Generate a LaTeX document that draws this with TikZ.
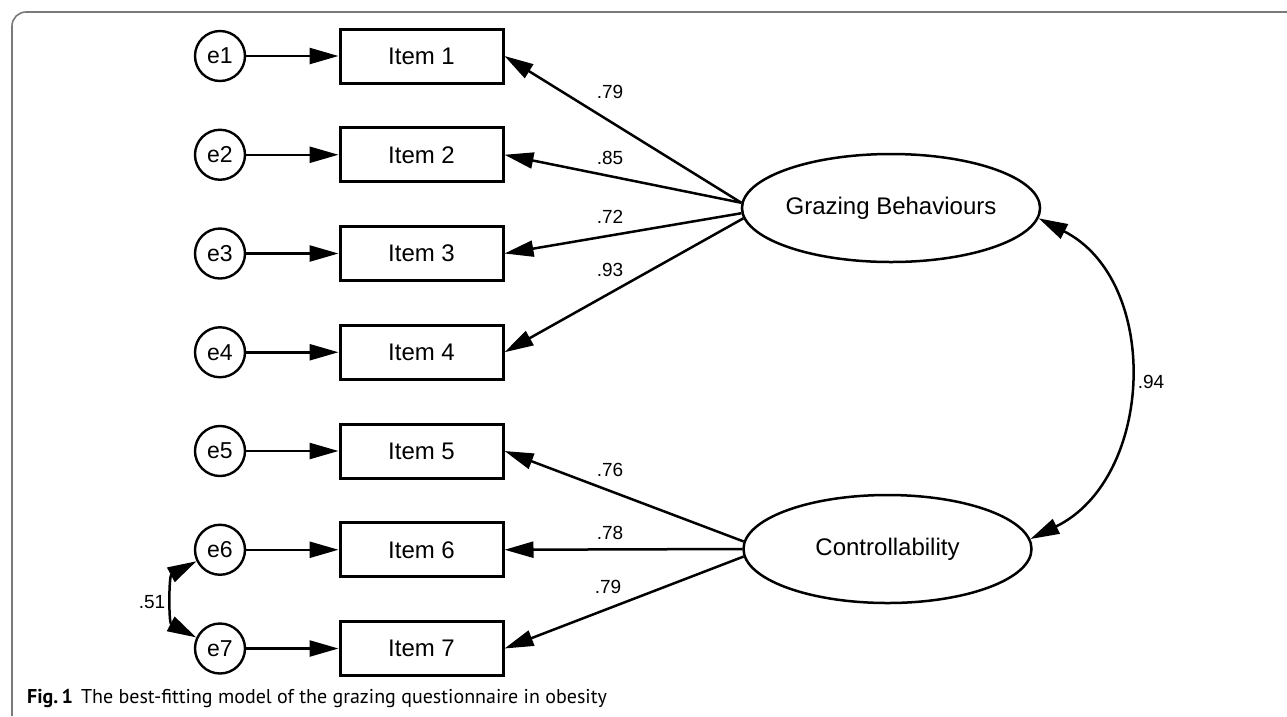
\documentclass[tikz,border=0pt]{standalone}
\usepackage{fontspec}
\setmainfont{Liberation Sans}
\newfontfamily\capfont{PT Sans}
\usetikzlibrary{arrows.meta,shapes.geometric}
\definecolor{framegray}{HTML}{7A7A7A}
\tikzset{
  tip/.style={-{Triangle[length=29pt,width=16pt]}},
  bitip/.style={{Triangle[length=29pt,width=16pt]}-{Triangle[length=29pt,width=16pt]}},
  conn/.style={line width=2.5pt},
  errc/.style={circle,draw,line width=2.4pt,minimum size=50pt,inner sep=0pt,font=\fontsize{23}{26}\selectfont},
  itembox/.style={rectangle,draw,line width=3pt,minimum width=163pt,minimum height=54pt,inner sep=0pt,font=\fontsize{24}{28}\selectfont},
  latent/.style={ellipse,draw,line width=2.5pt,minimum width=288pt,minimum height=108pt,inner sep=0pt,font=\fontsize{24}{28}\selectfont},
  lbl/.style={font=\fontsize{19}{22}\selectfont,inner sep=0pt}
}
\begin{document}
\begin{tikzpicture}[x=1pt,y=1pt]
\useasboundingbox (0,0) rectangle (1287,-716);
% frame
\draw[framegray,line width=1.6pt,rounded corners=14pt] (1287,-12) -- (12,-12) -- (12,-716);
% error terms and items
\foreach \i/\yy in {1/56,2/154.75,3/253.5,4/352.25,5/451,6/549.75,7/648.5}{
  \node[errc] (e\i) at (220,-\yy) {e\i};
  \node[itembox] (i\i) at (421.5,-\yy) {Item \i};
  \draw[conn,tip] (e\i) -- (i\i);
}
% latent variables
\node[latent] (gb) at (891,-208) {Grazing Behaviours};
\node[latent] (ct) at (887.5,-549) {Controllability};
% loadings
\draw[conn,tip] (gb.178) -- (i1.east);
\draw[conn,tip] (gb.178.4) -- (i2.east);
\draw[conn,tip] (gb.182) -- (i3.east);
\draw[conn,tip] (gb.184.4) -- (i4.east);
\draw[conn,tip] (ct.177.2) -- (i5.east);
\draw[conn,tip] (ct.180) -- (i6.east);
\draw[conn,tip] (ct.183.2) -- (i7.east);
% loading labels
\node[lbl] (l1) at (610,-92) {.79};
\node[lbl] (l2) at (610,-158) {.85};
\node[lbl] (l3) at (610,-217) {.72};
\node[lbl] (l4) at (610,-270) {.93};
\node[lbl] (l5) at (610,-470) {.76};
\node[lbl] (l6) at (610,-533) {.78};
\node[lbl] (l7) at (608,-587) {.79};
% covariances
\draw[conn,bitip] (gb.-4) to[out=-27,in=26,looseness=1.1] (ct.4);
\node[lbl] (c1) at (1151,-382) {.94};
\draw[conn,bitip] (e6.206) to[out=208,in=152,looseness=1.05] (e7.155);
\node[lbl] (c2) at (152,-602) {.51};
% caption
\node[anchor=base west,inner sep=0pt,font=\capfont\fontsize{20}{24}\selectfont] (cap) at (27,-703)
  {\textbf{Fig.\,1}\hspace{8pt}The best-fitting model of the grazing questionnaire in obesity};
\end{tikzpicture}
\end{document}
